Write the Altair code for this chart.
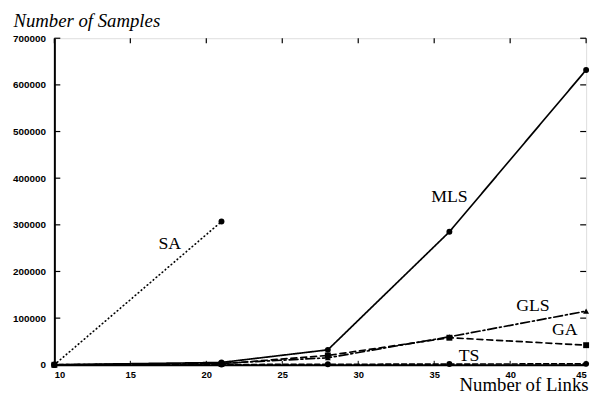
import altair as alt
import pandas as pd

# ---- data ----
links = [10, 21, 28, 36, 45]
mls = [0, 5000, 32000, 285000, 632000]
gls = [0, 3000, 15000, 60000, 115000]
ga = [0, 2000, 20000, 58000, 42000]
ts = [0, 500, 1000, 1500, 2000]
sa_links = [10, 21]
sa = [0, 307000]

x_ticks = [10, 15, 20, 25, 30, 35, 40, 45]
y_ticks = [0, 100000, 200000, 300000, 400000, 500000, 600000, 700000]

label_names = ["SA", "MLS", "GLS", "GA", "TS"]
label_x = [17.6, 36.0, 41.5, 43.6, 37.3]
label_y = [258000, 359000, 125000, 74000, 19000]

rows = []
for name, vals in [("MLS", mls), ("GLS", gls), ("GA", ga), ("TS", ts)]:
    for xv, yv in zip(links, vals):
        rows.append({"series": name, "links": xv, "samples": yv})
for xv, yv in zip(sa_links, sa):
    rows.append({"series": "SA", "links": xv, "samples": yv})
df = pd.DataFrame(rows)

labels_df = pd.DataFrame({"label": label_names, "links": label_x, "samples": label_y})
xt_df = pd.DataFrame({"v": x_ticks})
yt_df = pd.DataFrame({"v": y_ticks})

order = ["MLS", "GLS", "GA", "TS", "SA"]
xs = alt.Scale(domain=[10, 45], nice=False, zero=False)
ys = alt.Scale(domain=[0, 700000], nice=False)

x_enc = alt.X("links:Q", scale=xs, axis=alt.Axis(
    values=x_ticks, ticks=False, grid=False, domainColor="black", domainWidth=2,
    labelFont="Liberation Sans", labelFontWeight="bold", labelFontSize=9.5, labelColor="black",
    labelPadding=5, title="Number of Links", titleFont="Liberation Serif",
    titleFontWeight="normal", titleFontSize=19, titleColor="black", titleAlign="right",
    titleAnchor="end", titleX=541, titleY=26, titleBaseline="alphabetic"))
y_enc = alt.Y("samples:Q", scale=ys, axis=alt.Axis(
    values=y_ticks, ticks=False, grid=False, format="d", domainColor="black", domainWidth=2,
    labelFont="Liberation Sans", labelFontWeight="bold", labelFontSize=10, labelColor="black",
    labelPadding=9, title="Number of Samples", titleFont="Liberation Serif",
    titleFontStyle="italic", titleFontWeight="normal", titleFontSize=19, titleColor="black",
    titleAngle=0, titleAlign="left", titleX=-42, titleY=-12, titleBaseline="alphabetic"))

lines = alt.Chart(df).mark_line(strokeWidth=1.7, color="black", strokeCap="round").encode(
    x=x_enc, y=y_enc,
    detail="series:N",
    strokeDash=alt.StrokeDash("series:N", legend=None, scale=alt.Scale(
        domain=order, range=[[1, 0], [9, 3, 2, 3], [6, 4], [5, 3], [0.5, 3.5]])),
)

pts = alt.Chart(df).mark_point(filled=True, color="black", size=36, opacity=1).encode(
    x=alt.X("links:Q", scale=xs),
    y=alt.Y("samples:Q", scale=ys),
    shape=alt.Shape("series:N", legend=None, scale=alt.Scale(
        domain=order, range=["circle", "triangle-up", "square", "circle", "circle"])),
)

texts = alt.Chart(labels_df).mark_text(font="Liberation Serif", fontSize=18, color="black").encode(
    x=alt.X("links:Q", scale=xs), y=alt.Y("samples:Q", scale=ys), text="label:N")

# inward ticks on all four sides
yt_left = alt.Chart(yt_df).mark_rule(color="black", strokeWidth=1.2).encode(
    y=alt.Y("v:Q", scale=ys), x=alt.value(0), x2=alt.value(6))
yt_right = alt.Chart(yt_df).mark_rule(color="black", strokeWidth=1.2).encode(
    y=alt.Y("v:Q", scale=ys), x=alt.value(533), x2=alt.value(539))
xt_bot = alt.Chart(xt_df).mark_rule(color="black", strokeWidth=1).encode(
    x=alt.X("v:Q", scale=xs), y=alt.value(331), y2=alt.value(327))
xt_top = alt.Chart(xt_df).mark_rule(color="black", strokeWidth=1.2).encode(
    x=alt.X("v:Q", scale=xs), y=alt.value(0), y2=alt.value(5))

chart = alt.layer(lines, pts, texts, yt_left, yt_right, xt_bot, xt_top).properties(
    width=539, height=331,
    autosize=alt.AutoSizeParams(type="none"),
    padding={"left": 47, "top": 28, "right": 9, "bottom": 29},
).configure_view(stroke="black", strokeWidth=1.5).configure(background="white")

chart.save("out.html", embed_options={"renderer": "svg", "actions": False})
